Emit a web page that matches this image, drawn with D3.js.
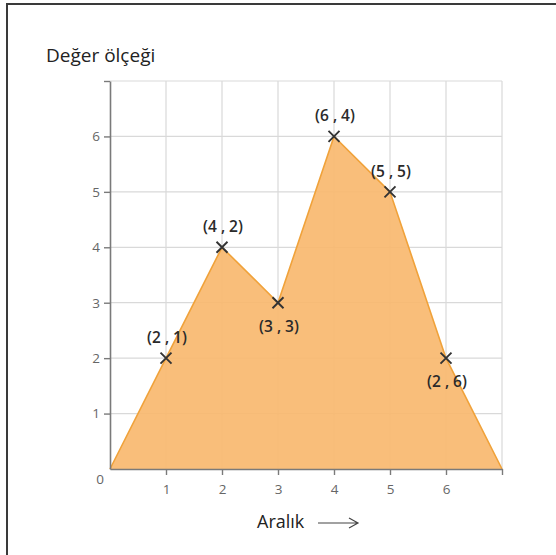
<!DOCTYPE html>
<html>
<head>
<meta charset="utf-8">
<script src="https://cdn.jsdelivr.net/npm/d3@7"></script>
<style>
  html, body { margin: 0; padding: 0; background: #fff; }
  svg { display: block; font-family: "Open Sans", "Noto Sans", sans-serif; }
</style>
</head>
<body>
<svg id="chart" width="556" height="555"></svg>
<script>
// Points of the shaded profile (x = interval, y = value)
const xValues = [0, 1, 2, 3, 4, 5, 6, 7];
const yValues = [0, 2, 4, 3, 6, 5, 2, 0];
// Coordinate captions for the marked points (empty = unmarked)
const pointLabels = ["", "(2 , 1)", "(4 , 2)", "(3 , 3)", "(6 , 4)", "(5 , 5)", "(2 , 6)", ""];
const labelSide = ["", "above", "above", "below", "above", "above", "below", ""];
const xTicks = [1, 2, 3, 4, 5, 6, 7];
const xTickLabels = ["1", "2", "3", "4", "5", "6", ""];
const yTicks = [1, 2, 3, 4, 5, 6, 7];
const yTickLabels = ["1", "2", "3", "4", "5", "6", ""];
const yTitle = "Değer ölçeği";
const xTitle = "Aralık";

const svg = d3.select("#chart");

// frame (top and left edges)
svg.append("path")
  .attr("d", "M7,556 L7,4 L556,4")
  .attr("fill", "none")
  .attr("stroke", "#3a3a3a")
  .attr("stroke-width", 2);

const x = d3.scaleLinear().domain([0, 7]).range([110, 502]);
const y = d3.scaleLinear().domain([0, 7]).range([469, 81]);

// grid
const grid = svg.append("g").attr("stroke", "#d9d9d9").attr("stroke-width", 1.2);
grid.selectAll("line.v").data(xTicks).join("line")
  .attr("x1", d => x(d)).attr("x2", d => x(d))
  .attr("y1", y(0)).attr("y2", y(7));
grid.selectAll("line.h").data(yTicks).join("line")
  .attr("x1", x(0)).attr("x2", x(7))
  .attr("y1", d => y(d)).attr("y2", d => y(d));

// shaded area
const pts = xValues.map((v, i) => [v, yValues[i]]);
const area = d3.area().x(d => x(d[0])).y0(y(0)).y1(d => y(d[1]));
svg.append("path")
  .datum(pts)
  .attr("d", area)
  .attr("fill", "#f8b96f")
  .attr("fill-opacity", 0.92);
const line = d3.line().x(d => x(d[0])).y(d => y(d[1]));
svg.append("path")
  .datum(pts)
  .attr("d", line)
  .attr("fill", "none")
  .attr("stroke", "#f0a23a")
  .attr("stroke-width", 1.6);

// axes
const axisColor = "#7a7a7a";
const yAxis = svg.append("g")
  .attr("transform", `translate(${x(0)},0)`)
  .call(d3.axisLeft(y).tickValues(yTicks).tickSize(6).tickSizeOuter(0)
    .tickFormat((d, i) => yTickLabels[i]));
const xAxis = svg.append("g")
  .attr("transform", `translate(0,${y(0)})`)
  .call(d3.axisBottom(x).tickValues(xTicks).tickSize(6).tickSizeOuter(0)
    .tickFormat((d, i) => xTickLabels[i]));
[yAxis, xAxis].forEach(g => {
  g.attr("font-size", 13.5).attr("font-family", "\"Open Sans\", sans-serif");
  g.select(".domain").attr("stroke", axisColor).attr("stroke-width", 1.6);
  g.selectAll(".tick line").attr("stroke", axisColor).attr("stroke-width", 1.4);
  g.selectAll(".tick text").attr("fill", "#666");
});
yAxis.selectAll(".tick text").attr("x", -10);
xAxis.selectAll(".tick text").attr("y", 15);

// origin label
svg.append("text")
  .attr("x", x(0) - 10).attr("y", y(0) + 15)
  .attr("text-anchor", "middle")
  .attr("fill", "#666").attr("font-size", 13.5)
  .text("0");

// point markers
const marked = pts.map((p, i) => ({ p, label: pointLabels[i], side: labelSide[i] }))
  .filter(d => d.label);
const s = 5.5;
const marks = svg.append("g").attr("stroke", "#333").attr("stroke-width", 1.9);
marks.selectAll("path").data(marked).join("path")
  .attr("d", d => {
    const cx = x(d.p[0]), cy = y(d.p[1]);
    return `M${cx - s},${cy - s}L${cx + s},${cy + s}M${cx - s},${cy + s}L${cx + s},${cy - s}`;
  });

svg.append("g").selectAll("text").data(marked).join("text")
  .attr("x", d => x(d.p[0]) + 1)
  .attr("y", d => y(d.p[1]) + (d.side === "above" ? -15 : 29))
  .attr("text-anchor", "middle")
  .attr("fill", "#2a2a2a")
  .attr("font-size", 15.5)
  .attr("font-weight", 600)
  .text(d => d.label);

// titles
svg.append("text")
  .attr("x", 46).attr("y", 62)
  .attr("fill", "#222").attr("font-size", 19)
  .text(yTitle);
svg.append("text")
  .attr("x", 257).attr("y", 528)
  .attr("fill", "#222").attr("font-size", 18)
  .text(xTitle);

// arrow after the axis title
svg.append("path")
  .attr("d", "M318,523 L357,523 M349,518 L358,523 L349,528")
  .attr("fill", "none")
  .attr("stroke", "#444")
  .attr("stroke-width", 1.2);
</script>
</body>
</html>
